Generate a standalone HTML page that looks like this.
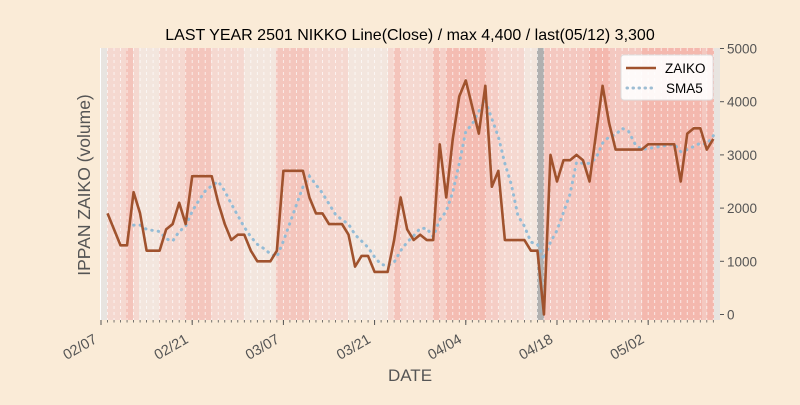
<!DOCTYPE html>
<html><head><meta charset="utf-8"><style>
body{margin:0;background:#faebd7;}
svg text{font-family:"Liberation Sans","DejaVu Sans",sans-serif;}
</style></head><body>
<svg id="chart" width="800" height="400" viewBox="0 0 800 400" xmlns="http://www.w3.org/2000/svg">
<rect x="0" y="0" width="800" height="400" fill="#faebd7"/>
<g id="bands"></g>
<g id="grid"></g>
<g id="series"></g>
<g id="axes"></g>
<text x="410" y="40" font-size="16" text-anchor="middle" fill="#000">LAST YEAR 2501 NIKKO Line(Close) / max 4,400 / last(05/12) 3,300</text>
<text x="0" y="0" transform="translate(90,185) rotate(-90)" font-size="17.5" text-anchor="middle" fill="#555">IPPAN ZAIKO (volume)</text>
<text x="410" y="381" font-size="17" text-anchor="middle" fill="#555">DATE</text>
<g>
<rect x="621" y="55" width="92" height="45" rx="3" fill="#fff" fill-opacity="0.9" stroke="#ddd"/>
<line x1="626" y1="68" x2="656" y2="68" stroke="#a0522d" stroke-width="2.5"/>
<text x="665" y="73" font-size="13.5" fill="#000">ZAIKO</text>
<line x1="627" y1="88" x2="656" y2="88" stroke="#9dbdd3" stroke-width="3" stroke-dasharray="0.5,5.5" stroke-linecap="round"/>
<text x="666" y="93" font-size="13.5" fill="#000">SMA5</text>
</g>
</svg>
<script>
const zaiko=[1900,1600,1300,1300,2300,1900,1200,1200,1200,1600,1700,2100,1700,2600,2600,2600,2600,2100,1700,1400,1500,1500,1200,1000,1000,1000,1200,2700,2700,2700,2700,2200,1900,1900,1700,1700,1700,1500,900,1100,1100,800,800,800,1400,2200,1600,1400,1500,1400,1400,3200,2200,3300,4100,4400,3900,3400,4300,2400,2700,1400,1400,1400,1400,1200,1200,0,3000,2500,2900,2900,3000,2900,2500,3400,4300,3600,3100,3100,3100,3100,3100,3200,3200,3200,3200,3200,2500,3400,3500,3500,3100,3300];
const smaWindow=5;
const yTicks=[0,1000,2000,3000,4000,5000];
const xTickDays=[0,14,28,42,56,70,84];
const xTickLabels=["02/07","02/21","03/07","03/21","04/04","04/18","05/02"];
const bandColors=[["#e8e4e0",101,107],["#f5d8d0",107,126],["#f4c4bb",126,133],["#f5d8d0",133,139],["#f3e6de",139,159],["#f5d8d0",159,185],["#f4c6bd",185,211],["#f5d8d0",211,244],["#f3e6de",244,276],["#f4c6bd",276,309],["#f5d8d0",309,348],["#f3e6de",348,388],["#f5d8d0",388,394],["#f4c4bb",394,401],["#f5d8d0",401,433],["#f4bfb5",433,440],["#f5d0c8",440,446],["#f4bcb2",446,486],["#f5cdc5",486,499],["#f5d8d0",499,524],["#f3e6de",524,537],["#b0b0b0",537,544],["#f4c8c0",544,589],["#f4b8ae",589,610],["#f4c8c0",610,642],["#f4b8ae",642,702],["#f4c8c0",702,707],["#f4b8ae",707,714],["#e8e4e0",714,720]];
const NS="http://www.w3.org/2000/svg";
const X0=101,PXD=6.514,L=100,R=720,T=48,B=320;
function xs(d){return X0+d*PXD;}
function ys(v){return 314.5-v*0.0532;}
function mk(tag,attrs,parent){const e=document.createElementNS(NS,tag);for(const k in attrs)e.setAttribute(k,attrs[k]);parent.appendChild(e);return e;}
const bands=document.getElementById('bands');
mk('rect',{x:L,y:T,width:R-L,height:B-T,fill:'#fff'},bands);
bandColors.forEach(b=>{const r=mk('rect',{x:b[1],y:T,width:b[2]-b[1],height:B-T,fill:b[0]},bands);

});
const grid=document.getElementById('grid');
for(let d=1;d<=94;d++){const l=mk('line',{x1:xs(d),y1:T,x2:xs(d),y2:B,stroke:'#fff','stroke-opacity':0.75,'stroke-width':0.9,'stroke-dasharray':'3,3'},grid);

}
const series=document.getElementById('series');
const sma=[];
for(let i=smaWindow-1;i<zaiko.length;i++){let s=0;for(let j=i-smaWindow+1;j<=i;j++)s+=zaiko[j];sma.push([i+1,s/smaWindow]);}
const sp=mk('polyline',{points:sma.map(p=>xs(p[0])+','+ys(p[1])).join(' '),fill:'none',stroke:'#94bcd6','stroke-width':3,'stroke-dasharray':'0.5,6','stroke-linecap':'round'},series);


const zp=mk('polyline',{points:zaiko.map((v,i)=>xs(i+1)+','+ys(v)).join(' '),fill:'none',stroke:'#a0522d','stroke-width':2.6,'stroke-linejoin':'round'},series);


const axes=document.getElementById('axes');
yTicks.forEach(v=>{const y=ys(v);
const t=mk('line',{x1:R,y1:y,x2:R+4,y2:y,stroke:'#555'},axes);


const tx=mk('text',{x:R+7,y:y+5,'font-size':13.5,fill:'#555'},axes);tx.textContent=v;

});
for(let d=0;d<=94;d++){const t=mk('line',{x1:xs(d),y1:B,x2:xs(d),y2:B+2.5,stroke:'#555','stroke-width':0.8},axes);

}
xTickDays.forEach((d,i)=>{const x=xs(d);
const t=mk('line',{x1:x,y1:B,x2:x,y2:B+5,stroke:'#555'},axes);


const tx=mk('text',{x:0,y:0,'font-size':14.5,fill:'#555','text-anchor':'end',transform:'translate('+(x-3)+','+(B+22)+') rotate(-30)'},axes);tx.textContent=xTickLabels[i];

});
</script>
</body></html>
